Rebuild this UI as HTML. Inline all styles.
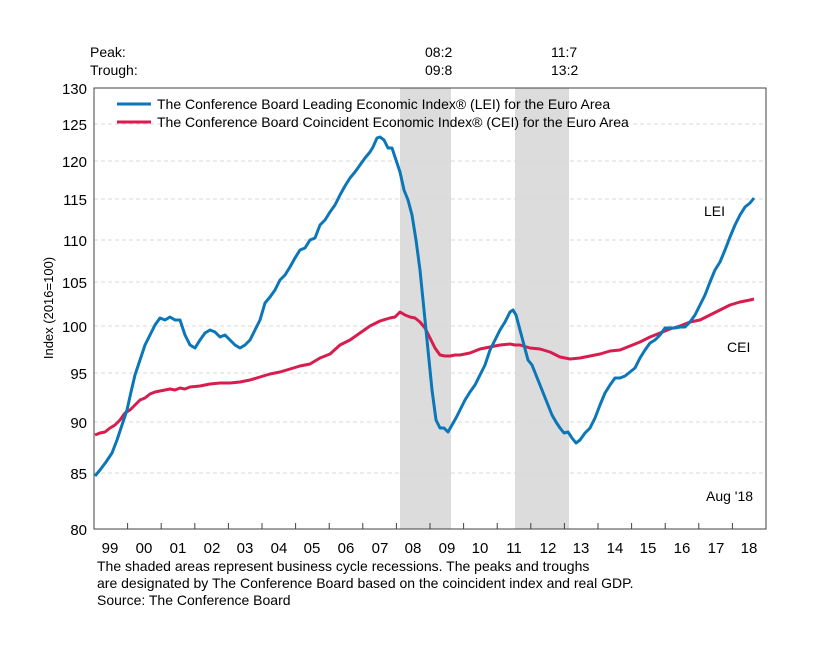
<!DOCTYPE html>
<html><head><meta charset="utf-8"><style>
body{margin:0;background:#fff;}
svg text{font-family:"Liberation Sans",Arial,sans-serif;fill:#000;}
</style></head><body>
<svg width="814" height="656" viewBox="0 0 814 656" xmlns="http://www.w3.org/2000/svg">
<rect width="814" height="656" fill="#fff"/>
<rect x="400" y="88" width="51" height="441" fill="#dcdcdc"/>
<rect x="515" y="88" width="54" height="441" fill="#dcdcdc"/>
<g stroke="#d8d8d8" stroke-dasharray="4,3" stroke-width="1">
<line x1="94" x2="766" y1="124" y2="124"/>
<line x1="94" x2="766" y1="161" y2="161"/>
<line x1="94" x2="766" y1="199" y2="199"/>
<line x1="94" x2="766" y1="240" y2="240"/>
<line x1="94" x2="766" y1="282" y2="282"/>
<line x1="94" x2="766" y1="326" y2="326"/>
<line x1="94" x2="766" y1="373" y2="373"/>
<line x1="94" x2="766" y1="422" y2="422"/>
<line x1="94" x2="766" y1="473" y2="473"/>
</g>
<rect x="94" y="88" width="672" height="441" fill="none" stroke="#404040" stroke-width="1"/>
<g stroke="#404040">
<line x1="127.6" x2="127.6" y1="523" y2="529"/><line x1="161.2" x2="161.2" y1="523" y2="529"/><line x1="194.8" x2="194.8" y1="523" y2="529"/><line x1="228.4" x2="228.4" y1="523" y2="529"/><line x1="262" x2="262" y1="523" y2="529"/><line x1="295.6" x2="295.6" y1="523" y2="529"/><line x1="329.2" x2="329.2" y1="523" y2="529"/><line x1="362.8" x2="362.8" y1="523" y2="529"/><line x1="396.4" x2="396.4" y1="523" y2="529"/><line x1="430" x2="430" y1="523" y2="529"/><line x1="463.6" x2="463.6" y1="523" y2="529"/><line x1="497.2" x2="497.2" y1="523" y2="529"/><line x1="530.8" x2="530.8" y1="523" y2="529"/><line x1="564.4" x2="564.4" y1="523" y2="529"/><line x1="598" x2="598" y1="523" y2="529"/><line x1="631.6" x2="631.6" y1="523" y2="529"/><line x1="665.2" x2="665.2" y1="523" y2="529"/><line x1="698.8" x2="698.8" y1="523" y2="529"/><line x1="732.4" x2="732.4" y1="523" y2="529"/>
</g>
<g font-size="15" text-anchor="end">
<text x="87" y="94">130</text><text x="87" y="130">125</text><text x="87" y="167">120</text><text x="87" y="205">115</text><text x="87" y="246">110</text><text x="87" y="288">105</text><text x="87" y="332">100</text><text x="87" y="379">95</text><text x="87" y="428">90</text><text x="87" y="479">85</text><text x="87" y="535">80</text>
</g>
<g font-size="15" text-anchor="middle">
<text x="110" y="553">99</text><text x="144" y="553">00</text><text x="178" y="553">01</text><text x="212" y="553">02</text><text x="245" y="553">03</text><text x="279" y="553">04</text><text x="312" y="553">05</text><text x="346" y="553">06</text><text x="380" y="553">07</text><text x="413" y="553">08</text><text x="447" y="553">09</text><text x="480" y="553">10</text><text x="514" y="553">11</text><text x="548" y="553">12</text><text x="581" y="553">13</text><text x="615" y="553">14</text><text x="648" y="553">15</text><text x="682" y="553">16</text><text x="716" y="553">17</text><text x="749" y="553">18</text>
</g>
<text transform="translate(53,308) rotate(-90)" font-size="13" text-anchor="middle">Index (2016=100)</text>
<g font-size="14">
<text x="90" y="57">Peak:</text><text x="90" y="75">Trough:</text>
<text x="425" y="57">08:2</text><text x="425" y="75">09:8</text>
<text x="551" y="57">11:7</text><text x="551" y="75">13:2</text>
<text x="157" y="109">The Conference Board Leading Economic Index® (LEI) for the Euro Area</text>
<text x="157" y="127">The Conference Board Coincident Economic Index® (CEI) for the Euro Area</text>
<text x="704" y="216">LEI</text>
<text x="727" y="352">CEI</text>
<text x="706" y="501">Aug '18</text>
<text x="97" y="571">The shaded areas represent business cycle recessions. The peaks and troughs</text>
<text x="97" y="588">are designated by The Conference Board based on the coincident index and real GDP.</text>
<text x="97" y="605">Source: The Conference Board</text>
</g>
<line x1="117" x2="151" y1="104" y2="104" stroke="#0b76b8" stroke-width="3"/>
<line x1="117" x2="151" y1="122" y2="122" stroke="#d91c4e" stroke-width="3"/>
<polyline fill="none" stroke="#d91c4e" stroke-width="3" stroke-linejoin="round" points="95,435 100,433 105,432 110,428 115,425 120,420 125,413 130,410 135,405 140,400 145,398 150,394 155,392 160,391 165,390 170,389 175,390 180,388 185,389 190,387 200,386 210,384 220,383 230,383 240,382 250,380 260,377 270,374 280,372 290,369 300,366 310,364 320,358 330,354 340,345 350,340 360,333 370,326 380,321 390,318 395,317 400,312 405,315 410,317 415,318 420,322 425,328 430,338 435,348 440,355 445,356 450,356 455,355 460,355 470,353 480,349 490,347 500,345 510,344 515,345 520,345 530,348 540,349 550,352 560,357 570,359 580,358 590,356 600,354 610,351 620,350 630,346 640,342 650,337 660,333 670,329 680,326 690,322 700,320 710,315 720,310 730,305 740,302 750,300 754,299"/>
<polyline fill="none" stroke="#0b76b8" stroke-width="3" stroke-linejoin="round" points="95,476 100,470 106,462 112,453 117,440 122,425 127,410 131,392 135,375 140,360 145,345 150,335 155,325 160,318 165,320 170,317 175,320 180,320 185,335 190,345 195,348 200,340 205,333 210,330 215,332 220,337 225,335 230,340 235,345 240,348 245,345 250,340 255,330 260,320 265,303 270,297 275,290 280,280 285,275 290,267 295,258 300,250 305,248 310,240 315,238 320,225 325,220 330,212 335,205 340,195 345,186 350,178 355,172 360,165 365,158 370,152 373,147 377,138 380,137 384,140 388,148 392,148 396,160 400,172 404,190 408,200 412,215 416,240 420,270 424,310 428,350 432,390 436,420 440,428 444,428 448,432 452,425 456,418 460,410 465,400 470,392 475,385 480,375 485,365 490,350 495,340 500,330 505,322 510,312 513,310 516,315 520,330 524,345 528,360 532,365 536,375 540,385 544,395 548,405 552,415 556,422 560,428 564,433 568,432 572,438 576,443 580,440 585,433 590,428 595,418 600,405 605,393 610,385 615,378 620,378 625,376 630,372 635,368 640,358 645,350 650,343 655,340 660,335 665,328 670,328 675,328 680,327 685,327 690,322 695,315 700,305 705,295 710,282 715,270 720,262 725,250 730,237 735,225 740,215 745,207 750,203 754,198"/>
</svg>
</body></html>
